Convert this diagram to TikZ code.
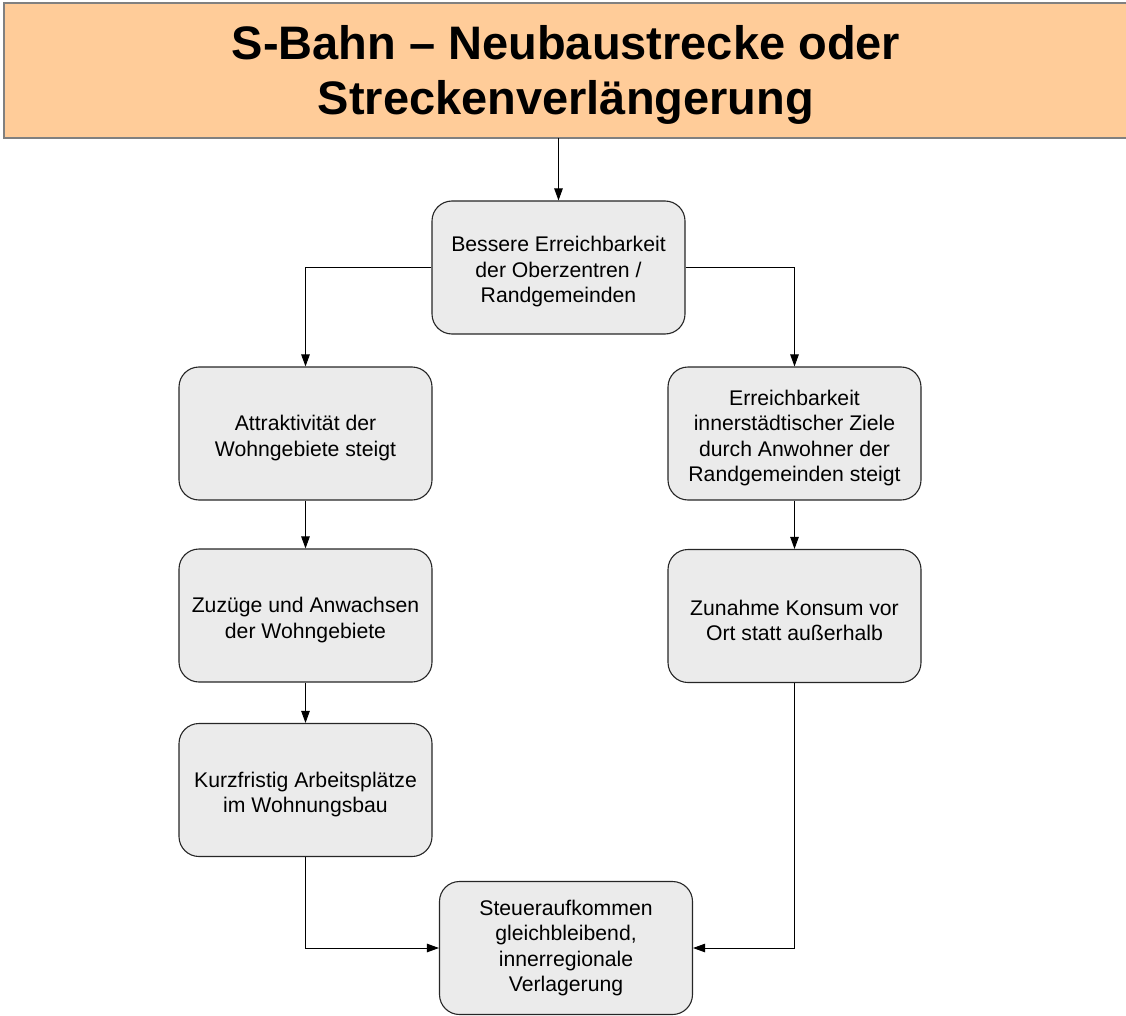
\documentclass[tikz,border=0pt]{standalone}
\usepackage{fontspec}
\setmainfont{Liberation Sans}
\usetikzlibrary{arrows.meta}
\newcommand{\topstrut}{\rule{0pt}{24pt}}

\begin{document}
\begin{tikzpicture}[x=1pt, y=-1pt,
    box/.style={draw=black!85, fill=black!8, rounded corners=20pt, line width=1.1pt,
      minimum width=253pt, minimum height=133pt, align=center,
      font=\fontsize{21.2}{25.5}\selectfont},
    titlebox/.style={draw=black!50, fill=orange!40!white, line width=1.5pt},
    titlefont/.style={align=center, font=\fontsize{47}{55}\selectfont\bfseries},
    conn/.style={line width=0.9pt, -{Triangle[length=12pt, width=8.5pt]}}]
  \useasboundingbox (0,0) rectangle (1126,1016);
  \draw[titlebox] (4,3) rectangle (1134,138);
  \node[titlefont] (title) at (566,75) {S-Bahn -- Neubaustrecke oder\\Streckenverlängerung};
  \coordinate (titlefoot) at (558.5,138);
  \node[box] (access) at (558.5,267.5) {\topstrut Bessere Erreichbarkeit\\der Oberzentren /\\Randgemeinden};
  \node[box] (attract) at (305.5,433.5) {\topstrut Attraktivität der\\Wohngebiete steigt};
  \node[box] (reach) at (794.5,433.5) {\topstrut Erreichbarkeit\\innerstädtischer Ziele\\durch Anwohner der\\Randgemeinden steigt};
  \node[box] (growth) at (305.5,615.5) {\topstrut Zuzüge und Anwachsen\\der Wohngebiete};
  \node[box] (consum) at (794.5,616) {\topstrut Zunahme Konsum vor\\Ort statt außerhalb};
  \node[box] (jobs) at (305.5,790) {\topstrut Kurzfristig Arbeitsplätze\\im Wohnungsbau};
  \node[box] (tax) at (566,948) {Steueraufkommen\\gleichbleibend,\\innerregionale\\Verlagerung};
  % connectors
  \draw[conn] (titlefoot) -- (access);
  \draw[conn] (access.west) -| (attract);
  \draw[conn] (access.east) -| (reach);
  \draw[conn] (attract) -- (growth);
  \draw[conn] (reach) -- (consum);
  \draw[conn] (growth) -- (jobs);
  \draw[conn] (jobs) |- (tax);
  \draw[conn] (consum) |- (tax);
\end{tikzpicture}
\end{document}
